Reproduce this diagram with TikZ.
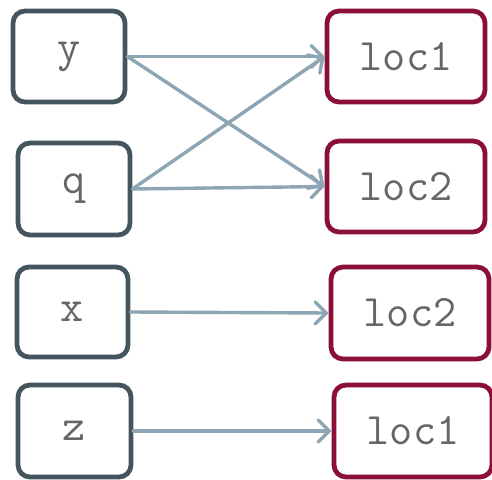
\documentclass[tikz,border=0pt]{standalone}
\usepackage{fontspec}
\usetikzlibrary{arrows.meta}
\definecolor{leftc}{HTML}{44555E}
\definecolor{rightc}{HTML}{8A1038}
\definecolor{arrc}{HTML}{8EA6B3}
\definecolor{txtc}{HTML}{666666}
\begin{document}
\begin{tikzpicture}[x=1pt,y=-1pt,
  box/.style={draw, line width=4.8pt, rounded corners=12pt, inner sep=0pt,
    font=\ttfamily\fontsize{45}{45}\selectfont, text=txtc},
  srcbox/.style={box, draw=leftc},
  dstbox/.style={box, draw=rightc},
  conn/.style={draw=arrc, line width=3.4pt, -{Straight Barb[length=11pt,width=22pt,line cap=round]}, line cap=round}]
\clip (0,0) rectangle (492,479);
\fill[white] (0,0) rectangle (492,479);
\node[srcbox, minimum width=112pt, minimum height=91pt] (y) at (69,56.5) {y};
\node[srcbox, minimum width=112pt, minimum height=92pt] (q) at (74,189) {q};
\node[srcbox, minimum width=111pt, minimum height=90pt] (x) at (72.5,312) {x};
\node[srcbox, minimum width=113pt, minimum height=92pt] (z) at (74.5,431) {z};
\node[dstbox, minimum width=158pt, minimum height=91pt] (l1a) at (406,56.5) {loc1};
\node[dstbox, minimum width=158pt, minimum height=91pt] (l2a) at (406,186.5) {loc2};
\node[dstbox, minimum width=158pt, minimum height=92pt] (l2b) at (410,313) {loc2};
\node[dstbox, minimum width=158pt, minimum height=92pt] (l1b) at (413,431) {loc1};
\draw[conn] (y.east) -- (l1a.west);
\draw[conn] (y.east) -- (l2a.west);
\draw[conn] (q.east) -- (l1a.west);
\draw[conn] (q.east) -- (l2a.west);
\draw[conn] (x.east) -- (l2b.west);
\draw[conn] (z.east) -- (l1b.west);
\end{tikzpicture}
\end{document}
